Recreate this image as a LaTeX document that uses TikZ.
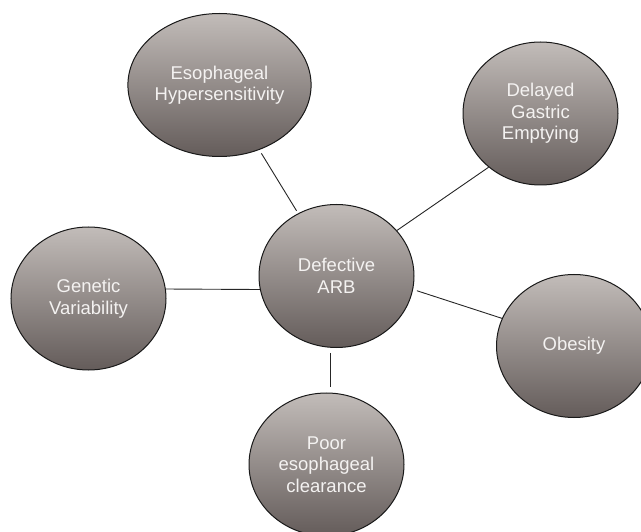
\documentclass[tikz,border=0pt]{standalone}
\usepackage{fontspec}
\setmainfont{Liberation Sans}
\usepackage{tikz}
\usetikzlibrary{shapes}

\definecolor{balltop}{RGB}{194,188,185}
\definecolor{ballbottom}{RGB}{100,92,90}
\definecolor{balltext}{RGB}{244,242,241}

\begin{document}
\begin{tikzpicture}[x=1pt, y=-1pt,
    cause/.style = {draw=black!90, line width=1pt, ellipse, inner sep=0pt,
        minimum width=155pt, minimum height=143pt,
        top color=balltop, bottom color=ballbottom,
        text=balltext, align=center,
        font=\fontsize{18.5}{21.5}\selectfont},
    link/.style = {line width=0.9pt, black!85}]
            \clip (0, 0) rectangle (641, 532);

            \node[cause] at (219.5, 85) (E) {Esophageal\\Hypersensitivity};
            \node[cause] at (540.5, 113.5) (D) {Delayed\\Gastric\\Emptying};
            \node[cause] at (88.5, 298.5) (G) {Genetic\\Variability};
            \node[cause] at (336.5, 276) (A) {Defective\\ARB};
            \node[cause] at (574, 346) (O) {Obesity};
            \node[cause] at (326.5, 464.5) (P) {Poor\\esophageal\\clearance};

            \draw [link, shorten <=4pt, shorten >=3pt] (E) -- (A);
            \draw [link] (D.226) -- (A.37);
            \draw [link] (G.7) -- (A.190);
            \draw [link, shorten <=4pt] (A.-10) -- (O.159);
            \draw [link, shorten <=5pt, shorten >=6pt] (A.265) -- (A.265 |- P.north);
            \end{tikzpicture}
\end{document}
